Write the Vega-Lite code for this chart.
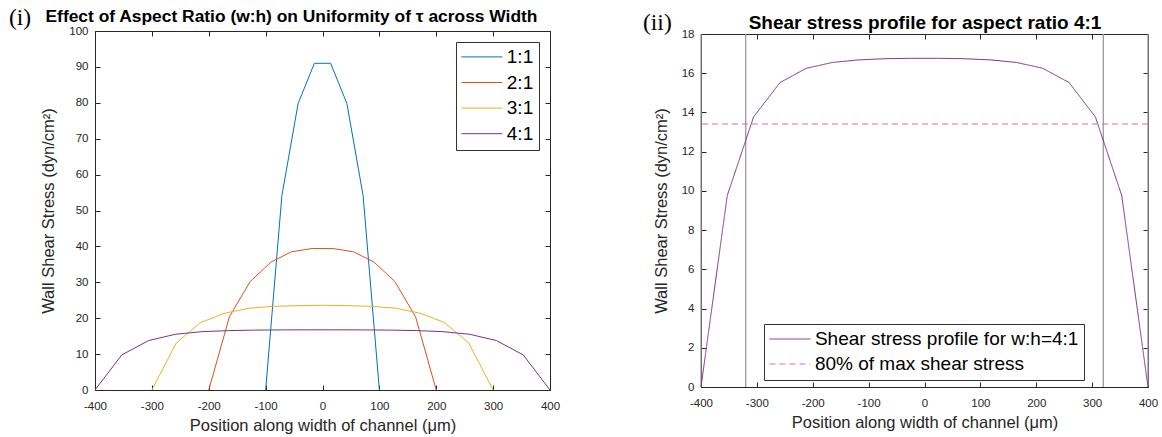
{
  "$schema": "https://vega.github.io/schema/vega-lite/v6.json",
  "padding": {"left": 8, "top": 5, "right": 5, "bottom": 0},
  "background": "white",
  "datasets": {
    "ar": [
      {"ratio": "1:1", "x": -100, "tau": 0},
      {"ratio": "1:1", "x": -71.43, "tau": 54.1},
      {"ratio": "1:1", "x": -42.86, "tau": 79.8},
      {"ratio": "1:1", "x": -14.29, "tau": 91.0},
      {"ratio": "1:1", "x": 14.29, "tau": 91.0},
      {"ratio": "1:1", "x": 42.86, "tau": 79.8},
      {"ratio": "1:1", "x": 71.43, "tau": 54.1},
      {"ratio": "1:1", "x": 100, "tau": 0},
      {"ratio": "2:1", "x": -200, "tau": 0},
      {"ratio": "2:1", "x": -163.64, "tau": 20.4},
      {"ratio": "2:1", "x": -127.27, "tau": 30.2},
      {"ratio": "2:1", "x": -90.91, "tau": 35.6},
      {"ratio": "2:1", "x": -54.55, "tau": 38.5},
      {"ratio": "2:1", "x": -18.18, "tau": 39.4},
      {"ratio": "2:1", "x": 18.18, "tau": 39.4},
      {"ratio": "2:1", "x": 54.55, "tau": 38.5},
      {"ratio": "2:1", "x": 90.91, "tau": 35.6},
      {"ratio": "2:1", "x": 127.27, "tau": 30.2},
      {"ratio": "2:1", "x": 163.64, "tau": 20.4},
      {"ratio": "2:1", "x": 200, "tau": 0},
      {"ratio": "3:1", "x": -300, "tau": 0},
      {"ratio": "3:1", "x": -257.14, "tau": 13.1},
      {"ratio": "3:1", "x": -214.29, "tau": 18.8},
      {"ratio": "3:1", "x": -171.43, "tau": 21.4},
      {"ratio": "3:1", "x": -128.57, "tau": 22.8},
      {"ratio": "3:1", "x": -85.71, "tau": 23.3},
      {"ratio": "3:1", "x": -42.86, "tau": 23.5},
      {"ratio": "3:1", "x": 0, "tau": 23.6},
      {"ratio": "3:1", "x": 42.86, "tau": 23.5},
      {"ratio": "3:1", "x": 85.71, "tau": 23.3},
      {"ratio": "3:1", "x": 128.57, "tau": 22.8},
      {"ratio": "3:1", "x": 171.43, "tau": 21.4},
      {"ratio": "3:1", "x": 214.29, "tau": 18.8},
      {"ratio": "3:1", "x": 257.14, "tau": 13.1},
      {"ratio": "3:1", "x": 300, "tau": 0},
      {"ratio": "4:1", "x": -400, "tau": 0},
      {"ratio": "4:1", "x": -352.94, "tau": 9.77},
      {"ratio": "4:1", "x": -305.88, "tau": 13.77},
      {"ratio": "4:1", "x": -258.82, "tau": 15.52},
      {"ratio": "4:1", "x": -211.76, "tau": 16.25},
      {"ratio": "4:1", "x": -164.71, "tau": 16.55},
      {"ratio": "4:1", "x": -117.65, "tau": 16.68},
      {"ratio": "4:1", "x": -70.59, "tau": 16.74},
      {"ratio": "4:1", "x": -23.53, "tau": 16.76},
      {"ratio": "4:1", "x": 23.53, "tau": 16.76},
      {"ratio": "4:1", "x": 70.59, "tau": 16.74},
      {"ratio": "4:1", "x": 117.65, "tau": 16.68},
      {"ratio": "4:1", "x": 164.71, "tau": 16.55},
      {"ratio": "4:1", "x": 211.76, "tau": 16.25},
      {"ratio": "4:1", "x": 258.82, "tau": 15.52},
      {"ratio": "4:1", "x": 305.88, "tau": 13.77},
      {"ratio": "4:1", "x": 352.94, "tau": 9.77},
      {"ratio": "4:1", "x": 400, "tau": 0}
    ],
    "p41": [
      {"series": "Shear stress profile for w:h=4:1", "x": -400, "tau": 0},
      {"series": "Shear stress profile for w:h=4:1", "x": -352.94, "tau": 9.77},
      {"series": "Shear stress profile for w:h=4:1", "x": -305.88, "tau": 13.77},
      {"series": "Shear stress profile for w:h=4:1", "x": -258.82, "tau": 15.52},
      {"series": "Shear stress profile for w:h=4:1", "x": -211.76, "tau": 16.25},
      {"series": "Shear stress profile for w:h=4:1", "x": -164.71, "tau": 16.55},
      {"series": "Shear stress profile for w:h=4:1", "x": -117.65, "tau": 16.68},
      {"series": "Shear stress profile for w:h=4:1", "x": -70.59, "tau": 16.74},
      {"series": "Shear stress profile for w:h=4:1", "x": -23.53, "tau": 16.76},
      {"series": "Shear stress profile for w:h=4:1", "x": 23.53, "tau": 16.76},
      {"series": "Shear stress profile for w:h=4:1", "x": 70.59, "tau": 16.74},
      {"series": "Shear stress profile for w:h=4:1", "x": 117.65, "tau": 16.68},
      {"series": "Shear stress profile for w:h=4:1", "x": 164.71, "tau": 16.55},
      {"series": "Shear stress profile for w:h=4:1", "x": 211.76, "tau": 16.25},
      {"series": "Shear stress profile for w:h=4:1", "x": 258.82, "tau": 15.52},
      {"series": "Shear stress profile for w:h=4:1", "x": 305.88, "tau": 13.77},
      {"series": "Shear stress profile for w:h=4:1", "x": 352.94, "tau": 9.77},
      {"series": "Shear stress profile for w:h=4:1", "x": 400, "tau": 0}
    ],
    "thr": [
      {"series": "80% of max shear stress", "tau": 13.41}
    ],
    "vl": [
      {"x": -400}, {"x": -320}, {"x": 320}, {"x": 400}
    ]
  },
  "hconcat": [
    {
      "width": 455,
      "height": 359,
      "title": {
        "text": "(i)",
        "anchor": "start",
        "frame": "group",
        "dx": -86,
        "offset": -21.5,
        "font": "Liberation Serif",
        "fontSize": 23.5,
        "fontWeight": "normal",
        "color": "black"
      },
      "data": {"name": "ar"},
      "layer": [
        {
          "mark": {"type": "line", "strokeWidth": 1},
          "encoding": {
            "x": {
              "field": "x", "type": "quantitative",
              "scale": {"domain": [-400, 400], "nice": false, "zero": false},
              "axis": {"values": [-400, -300, -200, -100, 0, 100, 200, 300, 400], "title": "Position along width of channel (μm)"}
            },
            "y": {
              "field": "tau", "type": "quantitative",
              "scale": {"domain": [0, 100], "nice": false},
              "axis": {"values": [0, 10, 20, 30, 40, 50, 60, 70, 80, 90, 100], "title": "Wall Shear Stress (dyn/cm²)"}
            },
            "color": {
              "field": "ratio", "type": "nominal",
              "scale": {"domain": ["1:1", "2:1", "3:1", "4:1"], "range": ["#0072BD", "#D95319", "#EDB120", "#7E2F8E"]},
              "legend": {
                "title": null,
                "orient": "top-right",
                "offset": 11,
                "fillColor": "white",
                "strokeColor": "#333333",
                "padding": 5.4,
                "rowPadding": 5.6,
                "labelFont": "Liberation Sans",
                "labelFontSize": 19,
                "labelColor": "black",
                "symbolType": "M-2.375,0H7.875",
                "symbolSize": 64,
                "symbolStrokeWidth": 1,
                "labelOffset": 26.4
              }
            }
          }
        },
        {
          "mark": {"type": "point", "opacity": 0},
          "encoding": {
            "x": {"field": "x", "type": "quantitative", "axis": {
              "orient": "top", "values": [-400, -300, -200, -100, 0, 100, 200, 300, 400], "labels": false, "domain": false,
              "title": "Effect of Aspect Ratio (w:h) on Uniformity of τ across Width",
              "titleFont": "Liberation Sans", "titleFontWeight": "bold", "titleFontSize": 17.4, "titleColor": "black",
              "titleAlign": "left", "titleAnchor": "start", "titleBaseline": "alphabetic", "titleX": -50, "titleY": -9.3
            }},
            "y": {"field": "tau", "type": "quantitative", "axis": {"orient": "right", "values": [0, 10, 20, 30, 40, 50, 60, 70, 80, 90, 100], "labels": false, "title": null, "domain": false}}
          }
        }
      ],
      "resolve": {"axis": {"x": "independent", "y": "independent"}}
    },
    {
      "width": 447,
      "height": 353,
      "title": {
        "text": "(ii)",
        "anchor": "start",
        "frame": "group",
        "dx": -58,
        "offset": -21.5,
        "font": "Liberation Serif",
        "fontSize": 23.5,
        "fontWeight": "normal",
        "color": "black"
      },
      "layer": [
        {
          "data": {"name": "vl"},
          "mark": {"type": "rule", "color": "#9a9a9a", "strokeWidth": 1.3},
          "encoding": {
            "x": {"field": "x", "type": "quantitative", "scale": {"domain": [-400, 400], "nice": false, "zero": false}, "axis": null}
          }
        },
        {
          "data": {"name": "p41"},
          "mark": {"type": "line", "strokeWidth": 1},
          "encoding": {
            "x": {
              "field": "x", "type": "quantitative",
              "axis": {"values": [-400, -300, -200, -100, 0, 100, 200, 300, 400], "title": "Position along width of channel (μm)"}
            },
            "y": {
              "field": "tau", "type": "quantitative",
              "scale": {"domain": [0, 18], "nice": false},
              "axis": {"values": [0, 2, 4, 6, 8, 10, 12, 14, 16, 18], "title": "Wall Shear Stress (dyn/cm²)"}
            },
            "color": {
              "field": "series", "type": "nominal",
              "scale": {"domain": ["Shear stress profile for w:h=4:1", "80% of max shear stress"], "range": ["#7E2F8E", "#D9728C"]},
              "legend": {
                "title": null,
                "orient": "none",
                "legendX": 63,
                "legendY": 290,
                "fillColor": "white",
                "strokeColor": "#333333",
                "padding": 5.5,
                "rowPadding": 5,
                "labelFont": "Liberation Sans",
                "labelFontSize": 19,
                "labelColor": "black",
                "labelLimit": 400,
                "symbolType": "M-2.375,0H7.875",
                "symbolSize": 64,
                "symbolStrokeWidth": 1,
                "labelOffset": 26.4
              }
            },
            "strokeDash": {
              "field": "series", "type": "nominal",
              "scale": {"domain": ["Shear stress profile for w:h=4:1", "80% of max shear stress"], "range": [[1, 0], [6, 4]]},
              "legend": {
                "title": null,
                "orient": "none",
                "legendX": 63,
                "legendY": 290,
                "fillColor": "white",
                "strokeColor": "#333333",
                "padding": 5.5,
                "rowPadding": 5,
                "labelFont": "Liberation Sans",
                "labelFontSize": 19,
                "labelColor": "black",
                "labelLimit": 400,
                "symbolType": "M-2.375,0H7.875",
                "symbolSize": 64,
                "symbolStrokeWidth": 1,
                "labelOffset": 26.4
              }
            }
          }
        },
        {
          "data": {"name": "thr"},
          "mark": {"type": "rule", "strokeWidth": 1},
          "encoding": {
            "y": {"field": "tau", "type": "quantitative", "axis": null},
            "color": {"field": "series", "type": "nominal"},
            "strokeDash": {"field": "series", "type": "nominal"}
          }
        },
        {
          "data": {"name": "p41"},
          "mark": {"type": "point", "opacity": 0},
          "encoding": {
            "x": {"field": "x", "type": "quantitative", "axis": {
              "orient": "top", "values": [-400, -300, -200, -100, 0, 100, 200, 300, 400], "labels": false, "domain": false,
              "title": "Shear stress profile for aspect ratio 4:1",
              "titleFont": "Liberation Sans", "titleFontWeight": "bold", "titleFontSize": 19, "titleColor": "black",
              "titleAlign": "center", "titleBaseline": "alphabetic", "titleX": 223.5, "titleY": -6
            }},
            "y": {"field": "tau", "type": "quantitative", "axis": {"orient": "right", "values": [0, 2, 4, 6, 8, 10, 12, 14, 16, 18], "labels": false, "title": null, "domain": false}}
          }
        }
      ],
      "resolve": {"axis": {"x": "independent", "y": "independent"}}
    }
  ],
  "spacing": 151,
  "bounds": "flush",
  "center": true,
  "resolve": {
    "scale": {"color": "independent", "strokeDash": "independent"},
    "legend": {"color": "independent", "strokeDash": "independent"}
  },
  "config": {
    "locale": {"number": {"decimal": ".", "thousands": ",", "grouping": [3], "currency": ["$", ""], "minus": "-"}},
    "view": {"stroke": "#262626", "strokeWidth": 1},
    "axis": {
      "grid": false,
      "domainColor": "#262626",
      "domainWidth": 1,
      "tickColor": "#262626",
      "tickWidth": 1,
      "tickSize": -5,
      "labelFlush": false,
      "labelOverlap": false,
      "labelColor": "#262626",
      "labelFont": "Liberation Sans",
      "labelFontSize": 11.5,
      "titleColor": "#262626",
      "titleFont": "Liberation Sans",
      "titleFontSize": 16.5,
      "titleFontWeight": "normal"
    },
    "axisBottom": {"labelPadding": 15, "titlePadding": 6},
    "axisLeft": {"labelPadding": 12, "titlePadding": 12},
    "axisTop": {"labelPadding": 0},
    "axisRight": {"labelPadding": 0}
  }
}
